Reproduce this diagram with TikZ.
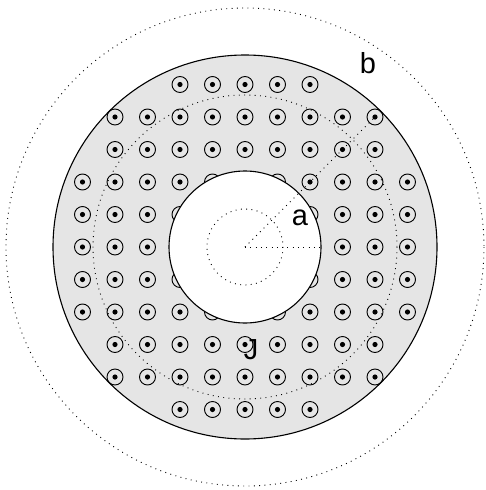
\documentclass[tikz,border=0pt]{standalone}
\usepackage{fontspec}
\setmainfont{Liberation Sans}
\definecolor{annul}{HTML}{E5E5E5}
\begin{document}
\begin{tikzpicture}[x=1pt,y=-1pt,
  cur/.style={circle,draw=black,line width=0.9pt,minimum size=16pt,inner sep=0pt,
    path picture={\fill[black] (path picture bounding box.center) circle (2.6pt);}},
  dotline/.style={line width=0.9pt,dash pattern=on 0.9pt off 4.4pt,line cap=butt},
  lbl/.style={inner sep=0pt,font=\fontsize{29}{34}\selectfont}]
\useasboundingbox (0,0) rectangle (485,490);
\coordinate (C) at (245,247);
% outer dotted circle
\draw[dotline] (C) circle (239);
% gray annulus
\fill[annul] (C) circle (192);
% currents
\foreach \k in {-5,...,5}{
  \foreach \m in {-5,...,5}{
    \pgfmathtruncatemacro\dd{\k*\k+\m*\m}
    \ifnum\dd<33
      \node[cur] (cur\k\m) at (245+\k*32.5,247+\m*32.5) {};
    \fi
  }
}
\draw[line width=1.1pt] (C) circle (192);
% hole
\fill[white,draw=black,line width=1.1pt] (C) circle (76);
% dotted circles
\draw[dotline] (C) circle (152);
\draw[dotline] (C) circle (38);
% radii
\coordinate (A) at (321,247);
\coordinate (B) at (381,111);
\draw[dotline] (C) -- (A);
\draw[dotline] (C) -- (B);
% labels
\node[lbl] (la) at (300,218) {a};
\node[lbl] (lb) at (368,63) {b};
\node[lbl] (lJ) at (251,350) {J};
\end{tikzpicture}
\end{document}
